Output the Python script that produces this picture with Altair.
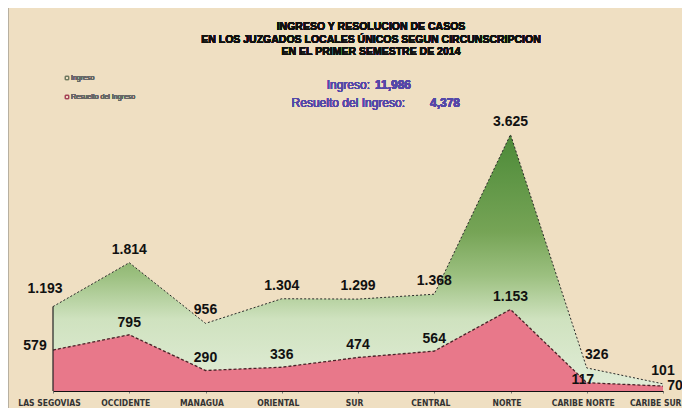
import altair as alt
import pandas as pd

categories = ["LAS SEGOVIAS", "OCCIDENTE", "MANAGUA", "ORIENTAL", "SUR",
              "CENTRAL", "NORTE", "CARIBE NORTE", "CARIBE SUR"]
ingreso = [1193, 1814, 956, 1304, 1299, 1368, 3625, 326, 101]
resuelto = [579, 795, 290, 336, 474, 564, 1153, 117, 70]
total_ingreso = "11,986"
total_resuelto = "4,378"
title_lines = ["INGRESO Y RESOLUCION DE CASOS",
               "EN LOS JUZGADOS LOCALES ÚNICOS SEGUN CIRCUNSCRIPCION",
               "EN EL PRIMER SEMESTRE DE 2014"]
legend_labels = ["Ingreso", "Resuelto del Ingreso"]


def fmt(v):
    return f"{v:,}".replace(",", ".")


df = pd.DataFrame({
    "cat": categories,
    "ingreso": ingreso,
    "resuelto": resuelto,
    "ing_lbl": [fmt(v) for v in ingreso],
    "res_lbl": [fmt(v) for v in resuelto],
    "zero": [0] * len(categories),
})

FONT = "Liberation Sans"
NARROW = "Liberation Sans Narrow, DejaVu Sans Condensed, Liberation Sans"
last = categories[-1]
x = alt.X("cat:N", sort=categories,
          scale=alt.Scale(type="point", padding=0),
          axis=alt.Axis(title=None, labelAngle=0, labelFontSize=8.5, labelFont=NARROW,
                        labelFontWeight="bold", labelColor="#333333", domainColor="#111111",
                        domainWidth=1.2, tickColor="#777777", tickSize=2, labelPadding=5,
                        labelAlign=alt.expr(f"datum.value == '{last}' ? 'right' : 'center'"),
                        labelOffset=alt.expr(f"datum.value == '{last}' ? 18 : -4"),
                        grid=False))
yscale = alt.Scale(domain=[0, 4000], nice=False)
y_ing = alt.Y("ingreso:Q", scale=yscale, axis=None)
y_res = alt.Y("resuelto:Q", scale=yscale, axis=None)

green = alt.Gradient(
    gradient="linear",
    stops=[alt.GradientStop(color="#4c8a38", offset=0),
           alt.GradientStop(color="#76a456", offset=0.38),
           alt.GradientStop(color="#9cc080", offset=0.55),
           alt.GradientStop(color="#cfe2bf", offset=0.72),
           alt.GradientStop(color="#e2edd8", offset=1)],
    x1=1, x2=1, y1=0, y2=1)

base = alt.Chart(df)
area_ing = base.mark_area(color=green, opacity=1).encode(x=x, y=y_ing)
line_ing = base.mark_line(color="#2a2a2a", strokeDash=[2, 2], strokeWidth=1).encode(x=x, y=y_ing)
area_res = base.mark_area(color="#e8788a", opacity=1).encode(x=x, y=y_res)
line_res = base.mark_line(color="#4a2228", strokeDash=[3, 2], strokeWidth=1.3).encode(x=x, y=y_res)
edge = base.transform_filter(alt.datum.cat == categories[0]).mark_rule(
    color="#222222", strokeWidth=1.2).encode(x=x, y=y_ing, y2="zero:Q")


def labels(field, ycol, cats, dx=0, dy=-12):
    return base.transform_filter(
        alt.FieldOneOfPredicate(field="cat", oneOf=cats)
    ).mark_text(font=FONT, fontSize=14, fontWeight="bold", color="#111111",
                dx=dx, dy=dy).encode(x=x, y=ycol, text=f"{field}:N")


ing_first = [categories[0]]
ing_cn = ["CARIBE NORTE"]
ing_rest = [c for c in categories if c not in ing_first + ing_cn]
res_first = [categories[0]]
res_cn = ["CARIBE NORTE"]
res_cs = ["CARIBE SUR"]
res_rest = [c for c in categories if c not in res_first + res_cn + res_cs]

lbls = [
    labels("ing_lbl", y_ing, ing_rest, dy=-13),
    labels("ing_lbl", y_ing, ing_first, dx=-8, dy=-18),
    labels("ing_lbl", y_ing, ing_cn, dx=10, dy=-13),
    labels("res_lbl", y_res, res_rest, dy=-12),
    labels("res_lbl", y_res, res_first, dx=-18, dy=-4),
    labels("res_lbl", y_res, res_cn, dx=-4, dy=-3),
    labels("res_lbl", y_res, res_cs, dx=12, dy=0),
]

# Title lines
titles = []
for i, t in enumerate(title_lines):
    titles.append(alt.Chart(df).mark_text(text=t, font=FONT, fontSize=10.5, fontWeight="bold",
                                          color="#111111").encode(
        x=alt.value(318), y=alt.value(-81 + i * 12.5)))

sub_color = "#5548a8"
subs = [
    alt.Chart(df).mark_text(text="Ingreso:", font=FONT, fontSize=12, color=sub_color,
                            align="right").encode(x=alt.value(317), y=alt.value(-23)),
    alt.Chart(df).mark_text(text=total_ingreso, font=FONT, fontSize=12, fontWeight="bold",
                            color=sub_color, align="left").encode(x=alt.value(322), y=alt.value(-23)),
    alt.Chart(df).mark_text(text="Resuelto del Ingreso:", font=FONT, fontSize=12, color=sub_color,
                            align="right").encode(x=alt.value(352), y=alt.value(-5)),
    alt.Chart(df).mark_text(text=total_resuelto, font=FONT, fontSize=12, fontWeight="bold",
                            color=sub_color, align="left").encode(x=alt.value(377), y=alt.value(-5)),
]

legend = [
    alt.Chart(df).mark_square(size=10, filled=False, color="#6f7a60", strokeWidth=1).encode(
        x=alt.value(14), y=alt.value(-30)),
    alt.Chart(df).mark_text(text=legend_labels[0], font=FONT, fontSize=7, color="#666666",
                            align="left").encode(x=alt.value(18), y=alt.value(-30)),
    alt.Chart(df).mark_square(size=10, filled=False, color="#a84458", strokeWidth=1).encode(
        x=alt.value(14), y=alt.value(-11)),
    alt.Chart(df).mark_text(text=legend_labels[1], font=FONT, fontSize=7, color="#666666",
                            align="left").encode(x=alt.value(18), y=alt.value(-11)),
]

frame = alt.Chart(df).mark_rule(color="#b8b0a0", strokeWidth=2).encode(
    x=alt.value(-45), y=alt.value(-100), y2=alt.value(300))

chart = alt.layer(area_ing, line_ing, area_res, line_res, edge, *lbls,
                  *titles, *subs, *legend, frame).properties(
    width=610, height=283,
    autosize=alt.AutoSizeParams(type="none"),
    padding={"left": 45, "top": 100, "right": 19, "bottom": 17},
    background="#efdfc2",
).configure_view(stroke=None)

chart.save("out.html", embed_options={"renderer": "svg", "actions": False})
